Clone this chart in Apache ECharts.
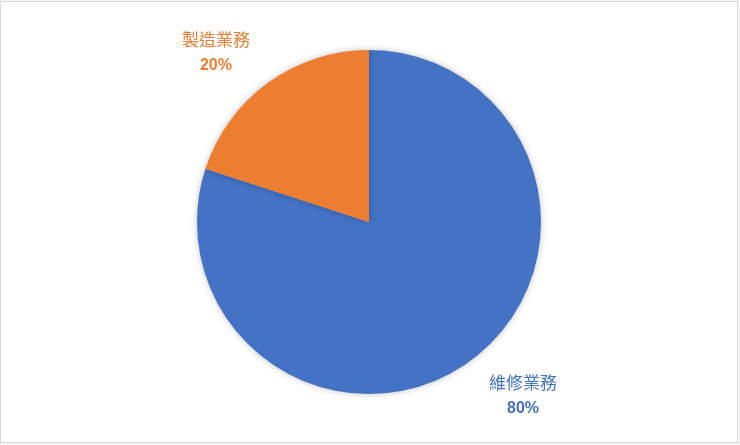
<!DOCTYPE html>
<html>
<head>
    <title>業務構成</title>
    <meta charset="utf-8"/>
    <script src="https://cdn.jsdelivr.net/npm/echarts@6/dist/echarts.min.js"></script>
    <style>
        body { margin: 0; background: #f4f4f4; }
        #myChart { position: absolute; left: 0; top: 1px; width: 736px; height: 440px;
                   border: 1px solid #d9d9d9; background: #fff; }
    </style>
</head>
<body>
    <div id="myChart"></div>
</body>
<script type="text/javascript">
    // 事業別の構成比（％）
    var categories = ['維修業務', '製造業務'];
    var values = [80, 20];
    var colors = ['#4472C4', '#ED7D31'];

    var myChart = echarts.init(document.getElementById('myChart'));

    var option = {
        animation: false,
        series: [{
            type: 'pie',
            center: ['50%', '50%'],
            radius: ['0%', 172],
            startAngle: 90,
            clockwise: true,
            itemStyle: {
                shadowBlur: 6,
                shadowColor: 'rgba(0,0,0,0.25)'
            },
            label: {
                show: true,
                position: 'outside',
                formatter: '{n|{b}}\n{p|{d}%}',
                rich: {
                    n: {
                        fontFamily: 'Noto Sans CJK TC',
                        fontSize: 17,
                        lineHeight: 26,
                        align: 'center'
                    },
                    p: {
                        fontFamily: 'Liberation Sans',
                        fontSize: 16,
                        fontWeight: 'bold',
                        lineHeight: 26,
                        align: 'center'
                    }
                }
            },
            labelLine: {
                show: false,
                length: 39,
                length2: 0
            },
            // Excel風にラベルを少し内側へ寄せる
            labelLayout: function (p) {
                var right = p.labelRect.x > p.rect.x + p.rect.width / 2;
                return right ? { dx: -9, dy: 3 } : { dx: 10, dy: 1 };
            },
            data: categories.map(function (name, i) {
                return {
                    name: name,
                    value: values[i],
                    itemStyle: { color: colors[i] },
                    label: { color: colors[i] }
                };
            })
        }]
    };
    myChart.setOption(option);
</script>
</html>
